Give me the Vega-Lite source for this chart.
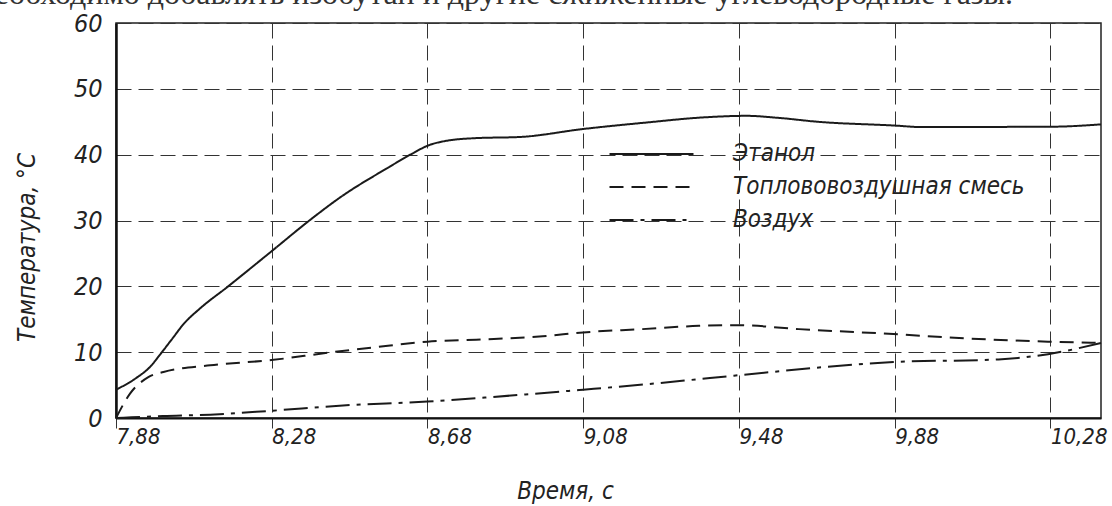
{
  "$schema": "https://vega.github.io/schema/vega-lite/v6.json",
  "width": 985,
  "height": 395,
  "autosize": {"type": "none"},
  "padding": {"left": 116, "top": 23, "right": 11, "bottom": 88},
  "background": "white",
  "title": {
    "text": "необходимо добавлять изобутан и другие сжиженные углеводородные газы.",
    "orient": "top",
    "anchor": "end",
    "frame": "group",
    "dx": -88,
    "offset": -25,
    "baseline": "alphabetic",
    "font": "Liberation Serif",
    "fontSize": 32,
    "fontWeight": "normal",
    "color": "#333"
  },
  "config": {
    "view": {"stroke": "#222", "strokeWidth": 1.5},
    "font": "DejaVu Sans Condensed, Liberation Sans Narrow, sans-serif"
  },
  "data": {
    "values": [
      {"t": 7.88, "v": 4.3, "s": "Этанол"},
      {"t": 7.93, "v": 6.0, "s": "Этанол"},
      {"t": 7.968, "v": 7.8, "s": "Этанол"},
      {"t": 7.994, "v": 9.7, "s": "Этанол"},
      {"t": 8.024, "v": 12.0, "s": "Этанол"},
      {"t": 8.054, "v": 14.3, "s": "Этанол"},
      {"t": 8.097, "v": 16.7, "s": "Этанол"},
      {"t": 8.166, "v": 19.9, "s": "Этанол"},
      {"t": 8.279, "v": 25.3, "s": "Этанол"},
      {"t": 8.381, "v": 30.2, "s": "Этанол"},
      {"t": 8.458, "v": 33.6, "s": "Этанол"},
      {"t": 8.578, "v": 38.0, "s": "Этанол"},
      {"t": 8.639, "v": 40.1, "s": "Этанол"},
      {"t": 8.682, "v": 41.4, "s": "Этанол"},
      {"t": 8.728, "v": 42.1, "s": "Этанол"},
      {"t": 8.8, "v": 42.5, "s": "Этанол"},
      {"t": 8.921, "v": 42.7, "s": "Этанол"},
      {"t": 9.08, "v": 43.9, "s": "Этанол"},
      {"t": 9.228, "v": 44.8, "s": "Этанол"},
      {"t": 9.4, "v": 45.7, "s": "Этанол"},
      {"t": 9.5, "v": 45.9, "s": "Этанол"},
      {"t": 9.58, "v": 45.6, "s": "Этанол"},
      {"t": 9.682, "v": 45.0, "s": "Этанол"},
      {"t": 9.887, "v": 44.4, "s": "Этанол"},
      {"t": 9.944, "v": 44.2, "s": "Этанол"},
      {"t": 10.285, "v": 44.25, "s": "Этанол"},
      {"t": 10.41, "v": 44.6, "s": "Этанол"},
      {"t": 7.88, "v": 0, "s": "Топлововоздушная смесь"},
      {"t": 7.916, "v": 3.7, "s": "Топлововоздушная смесь"},
      {"t": 7.963, "v": 6.2, "s": "Топлововоздушная смесь"},
      {"t": 8.002, "v": 7.0, "s": "Топлововоздушная смесь"},
      {"t": 8.122, "v": 8.0, "s": "Топлововоздушная смесь"},
      {"t": 8.279, "v": 8.8, "s": "Топлововоздушная смесь"},
      {"t": 8.423, "v": 9.9, "s": "Топлововоздушная смесь"},
      {"t": 8.552, "v": 10.8, "s": "Топлововоздушная смесь"},
      {"t": 8.68, "v": 11.6, "s": "Топлововоздушная смесь"},
      {"t": 8.805, "v": 11.9, "s": "Топлововоздушная смесь"},
      {"t": 8.976, "v": 12.4, "s": "Топлововоздушная смесь"},
      {"t": 9.08, "v": 13.0, "s": "Топлововоздушная смесь"},
      {"t": 9.232, "v": 13.5, "s": "Топлововоздушная смесь"},
      {"t": 9.377, "v": 14.0, "s": "Топлововоздушная смесь"},
      {"t": 9.48, "v": 14.1, "s": "Топлововоздушная смесь"},
      {"t": 9.634, "v": 13.5, "s": "Топлововоздушная смесь"},
      {"t": 9.877, "v": 12.75, "s": "Топлововоздушная смесь"},
      {"t": 10.06, "v": 12.1, "s": "Топлововоздушная смесь"},
      {"t": 10.274, "v": 11.6, "s": "Топлововоздушная смесь"},
      {"t": 10.41, "v": 11.4, "s": "Топлововоздушная смесь"},
      {"t": 7.88, "v": 0, "s": "Воздух"},
      {"t": 7.92, "v": 0.1, "s": "Воздух"},
      {"t": 8.0, "v": 0.3, "s": "Воздух"},
      {"t": 8.122, "v": 0.5, "s": "Воздух"},
      {"t": 8.279, "v": 1.1, "s": "Воздух"},
      {"t": 8.463, "v": 1.9, "s": "Воздух"},
      {"t": 8.68, "v": 2.5, "s": "Воздух"},
      {"t": 8.848, "v": 3.2, "s": "Воздух"},
      {"t": 9.08, "v": 4.3, "s": "Воздух"},
      {"t": 9.275, "v": 5.3, "s": "Воздух"},
      {"t": 9.377, "v": 5.9, "s": "Воздух"},
      {"t": 9.48, "v": 6.5, "s": "Воздух"},
      {"t": 9.877, "v": 8.5, "s": "Воздух"},
      {"t": 10.147, "v": 8.9, "s": "Воздух"},
      {"t": 10.274, "v": 9.7, "s": "Воздух"},
      {"t": 10.41, "v": 11.4, "s": "Воздух"}
    ]
  },
  "mark": {"type": "line", "interpolate": "monotone", "strokeWidth": 2, "color": "#1a1a1a"},
  "encoding": {
    "x": {
      "field": "t",
      "type": "quantitative",
      "scale": {"domain": [7.88, 10.41], "nice": false, "zero": false},
      "axis": {
        "values": [7.88, 8.28, 8.68, 9.08, 9.48, 9.88, 10.28],
        "labelExpr": "replace(format(datum.value, '.2f'), '.', ',')",
        "labelAlign": "left",
        "labelBaseline": "top",
        "labelPadding": -2,
        "labelDx": 2,
        "labelFlush": false,
        "labelOverlap": false,
        "labelFontSize": 22,
        "labelFontStyle": "italic",
        "labelColor": "#222",
        "tickSize": 10,
        "tickColor": "#333",
        "tickWidth": 1,
        "domainColor": "#111",
        "domainWidth": 2,
        "grid": true,
        "gridDash": [15, 7],
        "gridColor": "#333",
        "gridWidth": 1,
        "title": "Время, с",
        "titleX": 449,
        "titleY": 73,
        "titleAlign": "center",
        "titleBaseline": "middle",
        "titleFontSize": 24,
        "titleFontStyle": "italic",
        "titleFontWeight": "normal",
        "titleColor": "#222"
      }
    },
    "y": {
      "field": "v",
      "type": "quantitative",
      "scale": {"domain": [0, 60], "nice": false},
      "axis": {
        "values": [0, 10, 20, 30, 40, 50, 60],
        "labelFontSize": 25,
        "labelFontStyle": "italic",
        "labelColor": "#222",
        "labelPadding": 14,
        "labelBaseline": "middle",
        "ticks": false,
        "domainColor": "#111",
        "domainWidth": 2.5,
        "grid": true,
        "gridDash": [15, 7],
        "gridColor": "#333",
        "gridWidth": 1,
        "title": "Температура, °С",
        "titleX": -89,
        "titleY": 224,
        "titleAngle": 270,
        "titleAlign": "center",
        "titleBaseline": "middle",
        "titleFontSize": 24,
        "titleFontStyle": "italic",
        "titleFontWeight": "normal",
        "titleColor": "#222"
      }
    },
    "strokeDash": {
      "field": "s",
      "type": "nominal",
      "scale": {
        "domain": ["Этанол", "Топлововоздушная смесь", "Воздух"],
        "range": [[1, 0], [14, 8], [24, 7, 4, 7]]
      },
      "legend": {
        "orient": "none",
        "legendX": 523.5,
        "legendY": 119,
        "title": null,
        "symbolType": "M-4,0H4",
        "symbolSize": 441,
        "symbolStrokeWidth": 2,
        "symbolStrokeColor": "#1a1a1a",
        "symbolFillColor": "transparent",
        "labelOffset": 69.5,
        "labelFontSize": 24,
        "labelFontStyle": "italic",
        "labelColor": "#222",
        "labelLimit": 500,
        "rowPadding": 9,
        "padding": 0
      }
    }
  }
}
